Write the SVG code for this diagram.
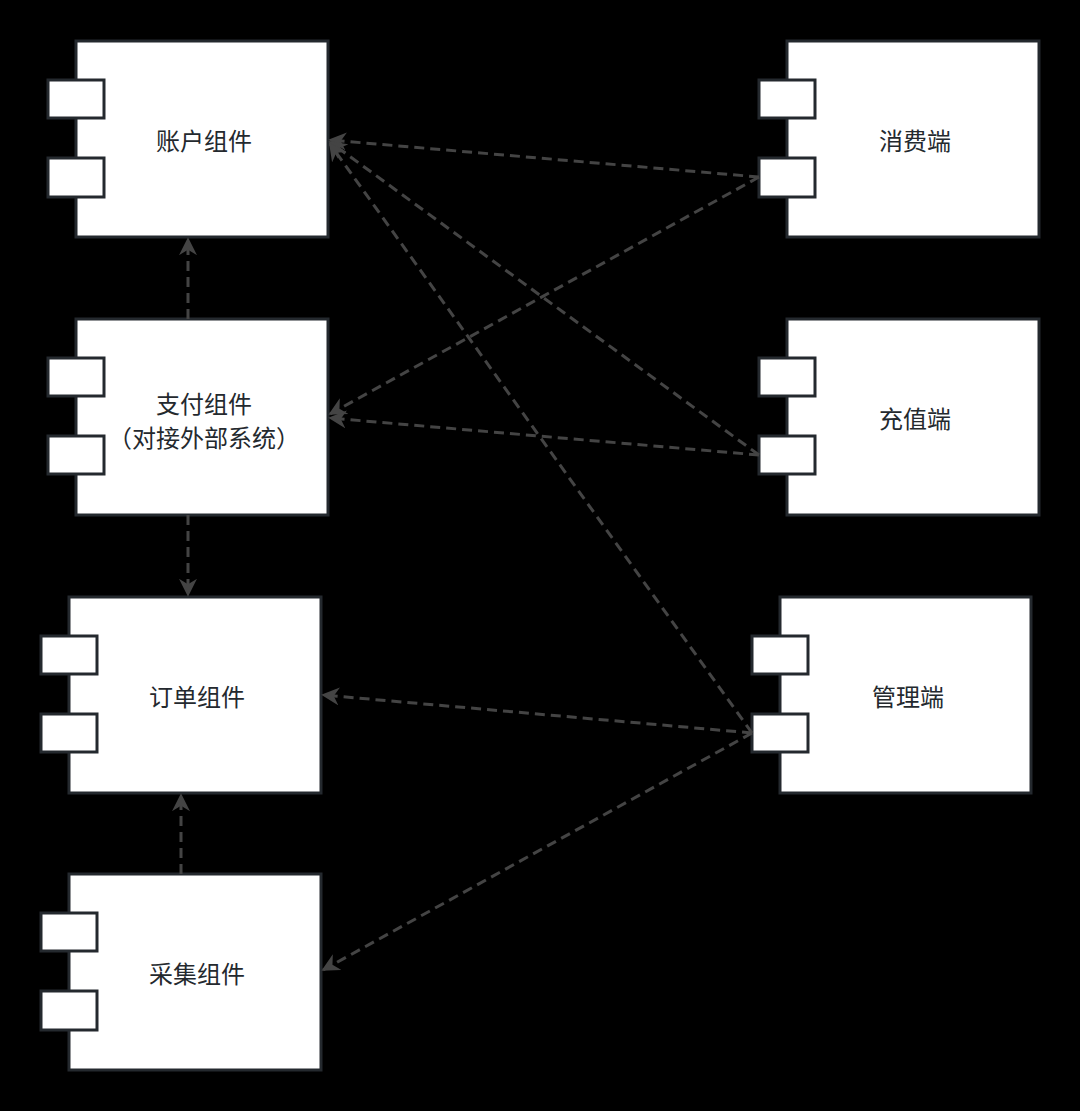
<svg xmlns="http://www.w3.org/2000/svg" width="1080" height="1111" viewBox="0 0 1080 1111">
<style>
.b{fill:#fff;stroke:#24292e;stroke-width:3}
.t{font-family:"Noto Sans CJK SC","Liberation Sans",sans-serif;font-size:24px;fill:#24292e;text-anchor:middle;dominant-baseline:central}
.c{fill:none;stroke:#444;stroke-width:3;stroke-dasharray:10 6;marker-end:url(#a)}
</style>
<defs><marker id="a" viewBox="0 0 10 10" refX="9" refY="5" markerWidth="6" markerHeight="6" orient="auto" markerUnits="strokeWidth"><path d="M0,0L10,5L0,10L3,5z" fill="#444"/></marker></defs>
<rect width="1080" height="1111" fill="#000"/>
<g id="n1"><rect class="b" x="76" y="41" width="252" height="196"/><rect class="b" x="48" y="80" width="56" height="38"/><rect class="b" x="48" y="158" width="56" height="39"/><text class="t" x="204" y="139">账户组件</text></g>
<g id="n2"><rect class="b" x="76" y="319" width="252" height="196"/><rect class="b" x="48" y="358" width="56" height="38"/><rect class="b" x="48" y="436" width="56" height="38"/><text class="t" x="204" y="402">支付组件</text><text class="t" x="204" y="436">（对接外部系统）</text></g>
<g id="n3"><rect class="b" x="69" y="597" width="252" height="196"/><rect class="b" x="41" y="636" width="56" height="38"/><rect class="b" x="41" y="714" width="56" height="38"/><text class="t" x="197" y="695">订单组件</text></g>
<g id="n4"><rect class="b" x="69" y="874" width="252" height="196"/><rect class="b" x="41" y="913" width="56" height="38"/><rect class="b" x="41" y="991" width="56" height="39"/><text class="t" x="197" y="972">采集组件</text></g>
<g id="n5"><rect class="b" x="787" y="41" width="252" height="196"/><rect class="b" x="759" y="80" width="56" height="38"/><rect class="b" x="759" y="158" width="56" height="39"/><text class="t" x="915" y="139">消费端</text></g>
<g id="n6"><rect class="b" x="787" y="319" width="252" height="196"/><rect class="b" x="759" y="358" width="56" height="38"/><rect class="b" x="759" y="436" width="56" height="38"/><text class="t" x="915" y="417">充值端</text></g>
<g id="n7"><rect class="b" x="780" y="597" width="251" height="196"/><rect class="b" x="752" y="636" width="56" height="38"/><rect class="b" x="752" y="714" width="56" height="38"/><text class="t" x="908" y="695">管理端</text></g>
<g id="edges">
<path class="c" d="M188,319V239"/>
<path class="c" d="M188,515V595"/>
<path class="c" d="M181,874V795"/>
<path class="c" d="M759,177L330,140"/>
<path class="c" d="M759,177L330,414"/>
<path class="c" d="M759,455L330,142"/>
<path class="c" d="M759,455L330,418"/>
<path class="c" d="M752,733L330,144"/>
<path class="c" d="M752,733L323,695"/>
<path class="c" d="M752,733L323,970"/>
</g>
</svg>
